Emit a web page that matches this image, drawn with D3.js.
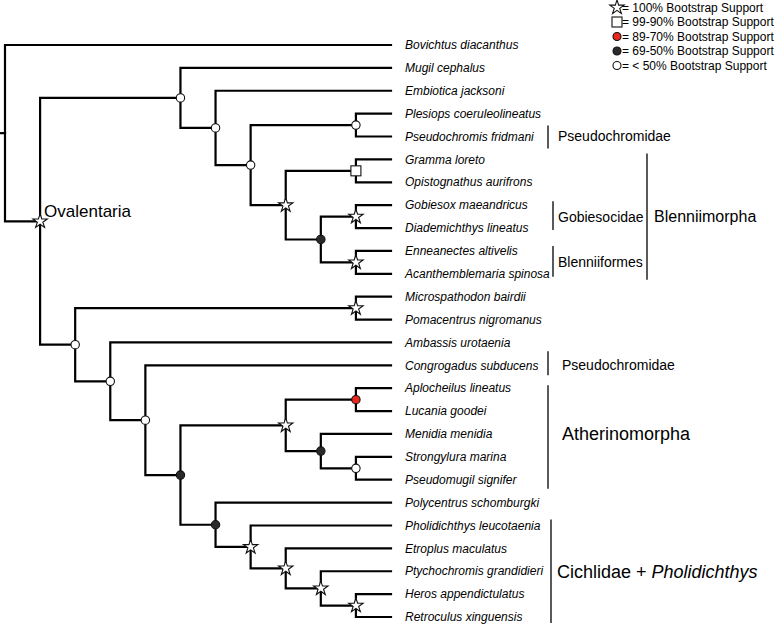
<!DOCTYPE html>
<html><head><meta charset="utf-8">
<script src="https://cdn.jsdelivr.net/npm/d3@7"></script>
<style>
html,body{margin:0;padding:0;background:#fff;}
svg{display:block;font-family:"Liberation Sans",Arial,Helvetica,sans-serif;}
</style></head>
<body><svg id="c" width="778" height="624"></svg>
<script>
// ---- data ----
const species = [
  "Bovichtus diacanthus","Mugil cephalus","Embiotica jacksoni","Plesiops coeruleolineatus",
  "Pseudochromis fridmani","Gramma loreto","Opistognathus aurifrons","Gobiesox maeandricus",
  "Diademichthys lineatus","Enneanectes altivelis","Acanthemblemaria spinosa","Microspathodon bairdii",
  "Pomacentrus nigromanus","Ambassis urotaenia","Congrogadus subducens","Aplocheilus lineatus",
  "Lucania goodei","Menidia menidia","Strongylura marina","Pseudomugil signifer",
  "Polycentrus schomburgki","Pholidichthys leucotaenia","Etroplus maculatus","Ptychochromis grandidieri",
  "Heros appendictulatus","Retroculus xinguensis"
];
// topology (leaf indices) with bootstrap class after each clade:
// S = 100%, Q = 99-90%, R = 89-70%, B = 69-50%, O = <50%
const topology = "(0,((1,(2,((3,4)O,((5,6)Q,((7,8)S,(9,10)S)B)S)O)O)O,((11,12)S,(13,(14,(((15,16)R,(17,(18,19)O)B)S,(20,(21,(22,(23,(24,25)S)S)S)S)B)B)O)O)O)S)";
const legendLabels = ["= 100% Bootstrap Support","= 99-90% Bootstrap Support","= 89-70% Bootstrap Support","= 69-50% Bootstrap Support","= < 50% Bootstrap Support"];
const legendCodes = ["S","Q","R","B","O"];
const cladeFrom  = [4, 7, 9, 5, 14, 15, 21];
const cladeTo    = [4, 8, 10, 10, 14, 19, 25];
const cladeText  = ["Pseudochromidae","Gobiesocidae","Blenniiformes","Blenniimorpha","Pseudochromidae","Atherinomorpha","Cichlidae + "];
const cladeItalic= ["","","","","","","Pholidichthys"];

// layout for clade labels (not data)
const cladeStyle = [
  {size:14, bar:548, tx:558, pt:11, pb:12},
  {size:14, bar:553, tx:558, pt:4, pb:2},
  {size:14, bar:553, tx:558, pt:5, pb:3},
  {size:16, bar:647, tx:654, pt:6, pb:6},
  {size:14, bar:548, tx:562, pt:14, pb:10},
  {size:18, bar:548, tx:562, pt:3, pb:9},
  {size:18, bar:551, tx:557, pt:6, pb:6}
];

// ---- parse newick ----
function parse(s){
  let i=0;
  function node(){
    if(s[i]==="("){
      i++; const ch=[];
      ch.push(node());
      while(s[i]===","){i++; ch.push(node());}
      i++; // ')'
      let lab=""; while(i<s.length && /[A-Z]/.test(s[i])) lab+=s[i++];
      return {children:ch, support:lab||null};
    } else {
      let n=""; while(/[0-9]/.test(s[i])) n+=s[i++];
      return {leaf:+n};
    }
  }
  return node();
}
const root = d3.hierarchy(parse(topology));

const svg = d3.select("#c");
const x = d3.scaleLinear().domain([0, root.height]).range([391, 5]);
const y = d3.scalePoint().domain(d3.range(species.length)).range([45, 617]);

root.eachAfter(n=>{
  n.px = x(n.height);
  if(!n.children) n.py = y(n.data.leaf);
  else n.py = (n.children[0].py + n.children[n.children.length-1].py)/2;
});

const g = svg.append("g");
// root stub
g.append("path").attr("d",`M0,${root.py}H${root.px}`).attr("stroke","#000").attr("stroke-width",2.2).attr("fill","none");
// links
g.selectAll("path.link").data(root.links()).join("path")
  .attr("class","link")
  .attr("d",l=>`M${l.source.px},${l.source.py}V${l.target.py}H${l.target.px}`)
  .attr("fill","none").attr("stroke","#000").attr("stroke-width",2.2)
  .attr("stroke-linecap","square");

// markers
const star = d3.symbol().type(d3.symbolStar).size(64);
function marker(sel, code, r){
  if(code==="S"){
    sel.append("path").attr("d",star()).attr("fill","#fff").attr("stroke","#111").attr("stroke-width",1.1);
  } else if(code==="Q"){
    sel.append("rect").attr("x",-5).attr("y",-5).attr("width",10).attr("height",10).attr("fill","#fff").attr("stroke","#111").attr("stroke-width",1.1);
  } else {
    const fill = code==="R" ? "#e8281c" : code==="B" ? "#2a2a2a" : "#fff";
    sel.append("circle").attr("r",r||4.2).attr("fill",fill).attr("stroke","#111").attr("stroke-width",1.1);
  }
}
root.descendants().filter(n=>n.data.support).forEach(n=>{
  const m = g.append("g").attr("transform",`translate(${n.px},${n.py})`);
  marker(m, n.data.support);
});

// leaf labels
g.selectAll("text.leaf").data(root.leaves()).join("text")
  .attr("class","leaf")
  .attr("x",405).attr("y",d=>d.py).attr("dy","0.35em")
  .attr("font-size",12).attr("font-style","italic").text(d=>species[d.data.leaf]);

// Ovalentaria label
const oval = root.children[1];
g.append("text").attr("x",oval.px+4).attr("y",oval.py-10).attr("dy","0.35em")
  .attr("font-size",17).text("Ovalentaria");

// clade labels
cladeText.forEach((txt,i)=>{
  const st = cladeStyle[i];
  const y0 = y(cladeFrom[i])-st.pt, y1 = y(cladeTo[i])+st.pb;
  g.append("line").attr("x1",st.bar).attr("x2",st.bar).attr("y1",y0).attr("y2",y1)
    .attr("stroke","#000").attr("stroke-width",1.3);
  const ym = (y(cladeFrom[i])+y(cladeTo[i]))/2;
  const t = g.append("text").attr("x",st.tx).attr("y",ym).attr("dy","0.35em").attr("font-size",st.size).text(txt);
  if(cladeItalic[i]) t.append("tspan").attr("font-style","italic").text(cladeItalic[i]);
});

// legend
const ly = d3.scalePoint().domain(d3.range(legendLabels.length)).range([7.5, 65.5]);
legendLabels.forEach((lab,i)=>{
  const m = g.append("g").attr("transform",`translate(617,${ly(i)})`);
  marker(m, legendCodes[i], 4);
  g.append("text").attr("x",622).attr("y",ly(i)).attr("dy","0.35em").attr("font-size",12).text(lab);
});
</script></body></html>
